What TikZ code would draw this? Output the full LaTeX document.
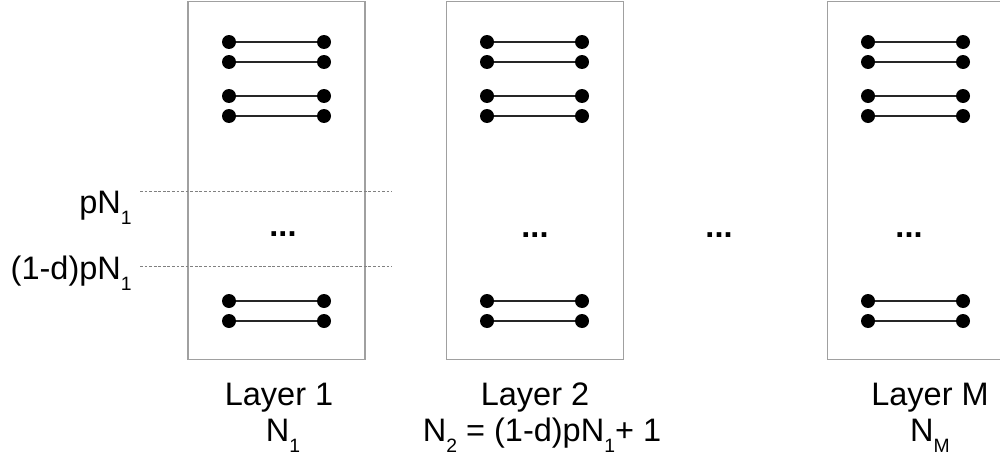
\documentclass[tikz,border=0pt]{standalone}
\usepackage{fontspec}
\setmainfont{Liberation Sans}
\usepackage{graphicx}
\definecolor{boxgray}{HTML}{A0A0A0}
\definecolor{guidegray}{HTML}{808080}
\newcommand{\sx}[1]{\scalebox{1.0}[1]{#1}}
\newcommand{\lsub}[1]{\raisebox{-0.22cm}{\fontsize{11}{13}\selectfont #1}}
\tikzset{
  layerbox/.style={draw=boxgray, line width=0.6pt, minimum width=3.54cm, minimum height=7.18cm, inner sep=0pt},
  dot/.style={circle, fill=black, inner sep=0pt, minimum size=0.28cm},
  link/.style={line width=0.8pt, black!85},
  guide/.style={draw=guidegray, line width=0.5pt, dash pattern=on 1.6pt off 1pt},
  lbl/.style={font=\fontsize{18.5}{22}\selectfont, inner sep=0pt}
}
\begin{document}
\begin{tikzpicture}[x=0.02cm, y=-0.02cm]
\useasboundingbox (0,0) rectangle (1000,463);
\clip (0,0) rectangle (1000,463);
% layer boxes
\node[layerbox] (box1) at (276.5,180.5) {};
\node[layerbox] (box2) at (535,180.5) {};
\node[layerbox] (boxM) at (915.5,180.5) {};
% dots and links
\foreach \lay/\xl/\xr in {A/229/324, B/487/582, M/868/963} {
  \foreach \r/\y in {1/42,2/62,3/96,4/116,5/301,6/321} {
    \node[dot] (\lay\r L) at (\xl,\y) {};
    \node[dot] (\lay\r R) at (\xr,\y) {};
    \draw[link] (\lay\r L) -- (\lay\r R);
  }
}
% ellipses
\node[lbl, font=\bfseries\fontsize{18.5}{22}\selectfont] (e1) at (283,234) {\sx{...}};
\node[lbl, font=\bfseries\fontsize{18.5}{22}\selectfont] (e2) at (535,235) {\sx{...}};
\node[lbl, font=\bfseries\fontsize{18.5}{22}\selectfont] (e3) at (719,235) {\sx{...}};
\node[lbl, font=\bfseries\fontsize{18.5}{22}\selectfont] (e4) at (909,235) {\sx{...}};
% guide lines
\coordinate (g1s) at (140,191);
\coordinate (g1e) at (392,191);
\coordinate (g2s) at (140,266);
\coordinate (g2e) at (392,266);
\draw[guide] (g1s) -- (g1e);
\draw[guide] (g2s) -- (g2e);
\node[lbl, anchor=base east] (pn) at (132,213) {\sx{pN\lsub{1}}};
\node[lbl, anchor=base east] (dpn) at (132,279) {\sx{(1-d)pN\lsub{1}}};
% layer labels
\node[lbl, anchor=base] (l1) at (279,405) {\sx{Layer 1}};
\node[lbl, anchor=base] (n1) at (283,441) {\sx{N\lsub{1}}};
\node[lbl, anchor=base] (l2) at (535,405) {\sx{Layer 2}};
\node[lbl, anchor=base] (n2) at (542,441) {\sx{N\lsub{2} = (1-d)pN\lsub{1}+ 1}};
\node[lbl, anchor=base] (lM) at (930,405) {\sx{Layer M}};
\node[lbl, anchor=base] (nM) at (930,441) {\sx{N\lsub{M}}};
\end{tikzpicture}
\end{document}
